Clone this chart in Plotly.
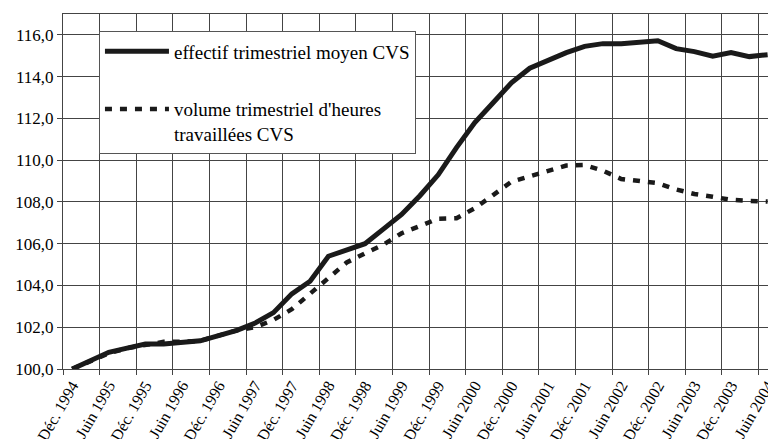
import plotly.graph_objects as go

# Quarterly series, first value = Déc. 1994 (index 0), base 100
effectif = [100.0, 100.4, 100.8, 101.0, 101.2, 101.2, 101.3, 101.35, 101.6, 101.85,
            102.2, 102.7, 103.6, 104.2, 105.4, 105.7, 106.0, 106.7, 107.4, 108.3,
            109.3, 110.6, 111.8, 112.75, 113.7, 114.4, 114.8, 115.15, 115.45, 115.58,
            115.58, 115.65, 115.72, 115.34, 115.2, 114.98, 115.15, 114.96, 115.05]
volume = [100.0, 100.35, 100.75, 101.0, 101.15, 101.3, 101.3, 101.35, 101.6, 101.85,
          102.0, 102.35, 102.86, 103.62, 104.4, 105.1, 105.54, 105.95, 106.5, 106.85,
          107.2, 107.22, 107.7, 108.33, 108.97, 109.23, 109.5, 109.74, 109.77, 109.5,
          109.1, 109.0, 108.9, 108.6, 108.38, 108.25, 108.1, 108.05, 108.02]
tick_labels = ["Déc. 1994", "Juin 1995", "Déc. 1995", "Juin 1996", "Déc. 1996",
               "Juin 1997", "Déc. 1997", "Juin 1998", "Déc. 1998", "Juin 1999",
               "Déc. 1999", "Juin 2000", "Déc. 2000", "Juin 2001", "Déc. 2001",
               "Juin 2002", "Déc. 2002", "Juin 2003", "Déc. 2003", "Juin 2004"]
y_ticks = [100, 102, 104, 106, 108, 110, 112, 114, 116]

x = list(range(len(effectif)))
tick_pos = [2 * i for i in range(len(tick_labels))]
bound_pos = [2 * i - 0.5 for i in range(len(tick_labels))]

FONT = "Liberation Serif, Times New Roman, serif"

fig = go.Figure()
fig.add_trace(go.Scatter(
    x=x, y=effectif, mode="lines", name="effectif trimestriel moyen CVS",
    line=dict(color="#1a1a1a", width=5), legendgroup="a"))
fig.add_trace(go.Scatter(
    x=x, y=volume, mode="lines", name="volume trimestriel d'heures<br>travaillées CVS",
    line=dict(color="#1a1a1a", width=4.5, dash="7px,8px"), legendgroup="b"))

fig.update_layout(
    width=768, height=439,
    margin=dict(l=63, r=0, t=14, b=70, autoexpand=False),
    paper_bgcolor="white", plot_bgcolor="white",
    separators=", ",
    font=dict(family=FONT, color="black", size=16),
    legend=dict(
        x=0.051, y=0.951, xanchor="left", yanchor="top",
        bgcolor="white", bordercolor="#555", borderwidth=1,
        font=dict(family=FONT, size=19, color="black"),
        itemwidth=64, tracegroupgap=30, valign="top",
    ),
    xaxis=dict(
        range=[-0.5, 38.02], automargin=False,
        tickmode="array", tickvals=tick_pos, ticktext=tick_labels,
        tickangle=-60, ticks="", showgrid=False, ticklabeloverflow="allow",
        tickfont=dict(family=FONT, size=16),
        showline=True, linecolor="#444", linewidth=1, mirror=True,
        minor=dict(tickmode="array", tickvals=bound_pos, showgrid=True,
                   gridcolor="#444", gridwidth=1, ticks="outside",
                   ticklen=5, tickcolor="#444"),
        zeroline=False,
    ),
    yaxis=dict(
        range=[100, 117], automargin=False, tickmode="array", tickvals=y_ticks,
        tickformat=".1f", ticks="outside", ticklen=5, tickcolor="#444",
        showgrid=True, gridcolor="#444", gridwidth=1,
        showline=True, linecolor="#444", linewidth=1,
        tickfont=dict(family=FONT, size=17),
        zeroline=False,
    ),
    showlegend=True,
)

fig.write_html("out.html", config={"displayModeBar": False},
               post_script="document.body.style.margin='0';")
